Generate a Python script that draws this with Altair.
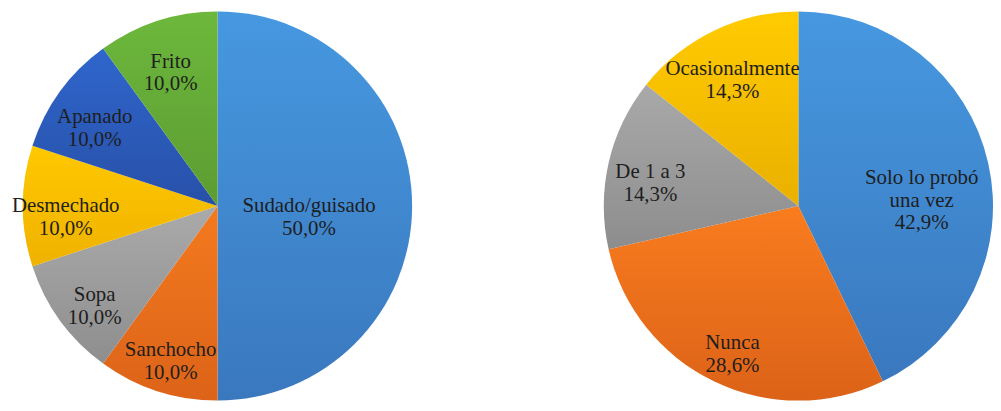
import math
import textwrap

import altair as alt
import pandas as pd

# ---- data -------------------------------------------------------------
left_categories = ["Sudado/guisado", "Sanchocho", "Sopa", "Desmechado", "Apanado", "Frito"]
left_values = [50.0, 10.0, 10.0, 10.0, 10.0, 10.0]

right_categories = ["Solo lo probó una vez", "Nunca", "De 1 a 3", "Ocasionalmente"]
right_values = [42.9, 28.6, 14.3, 14.3]

# ---- styles (gradient top / bottom colour for each slice) -------------
left_top = ["#4698E0", "#F47A1F", "#AAAAAA", "#FFC800", "#2F66CC", "#6DB83C"]
left_bottom = ["#3A78BE", "#DC6318", "#8E8E8E", "#EFB200", "#2850A8", "#5C9C32"]
right_top = ["#4698E0", "#F97C1E", "#A9A9A9", "#FFCB00"]
right_bottom = ["#3A78BE", "#DC6218", "#8D8D8D", "#EAB000"]

R = 196
FONT = "Liberation Serif, Times New Roman, DejaVu Serif, serif"


def pie(cats, vals, tops, bottoms, width, height):
    df = pd.DataFrame(
        {
            "cat": cats,
            "value": vals,
            "order": list(range(len(cats))),
            "label": ["\n".join(textwrap.wrap(c, 14)) for c in cats],
        }
    )
    total = float(sum(vals))
    theta_scale = alt.Scale(domain=[0, total], range=[0, 2 * math.pi])

    base = (
        alt.Chart(df)
        .transform_window(cum="sum(value)", sort=[alt.SortField("order")])
        .transform_calculate(
            start="datum.cum - datum.value",
            mid="datum.cum - datum.value / 2",
            pct="replace(format(datum.value, '.1f'), '.', ',') + '%'",
        )
        .transform_calculate(
            txt="datum.label + '\\n' + datum.pct",
            lr=f"datum.value >= 45 ? {0.47 * R} : datum.value >= 40 ? {0.65 * R} : {0.78 * R}",
        )
    )

    layers = []
    for i in range(len(cats)):
        grad = alt.LinearGradient(
            gradient="linear",
            stops=[
                alt.GradientStop(color=tops[i], offset=0),
                alt.GradientStop(color=bottoms[i], offset=1),
            ],
            x1=0,
            x2=0,
            y1=0,
            y2=1,
        )
        layers.append(
            base.transform_filter(alt.datum.order == i)
            .mark_arc(radius=R, color=grad, strokeWidth=0)
            .encode(
                theta=alt.Theta("start:Q", scale=theta_scale, stack=False),
                theta2="cum:Q",
            )
        )

    text = base.mark_text(
        font=FONT,
        fontSize=21,
        lineBreak="\n",
        lineHeight=23,
        color="#1E1E1E",
        align="center",
        baseline="middle",
    ).encode(
        theta=alt.Theta("mid:Q", scale=theta_scale, stack=False),
        radius=alt.Radius("lr:Q", scale=alt.Scale(type="linear", domain=[0, R], range=[0, R])),
        text="txt:N",
    )
    layers.append(text)
    return alt.layer(*layers).properties(width=width, height=height)


left = pie(left_categories, left_values, left_top, left_bottom, 422, 392)
right = pie(right_categories, right_values, right_top, right_bottom, 392, 392)

chart = (
    alt.hconcat(left, right, spacing=178)
    .resolve_scale(theta="independent", radius="independent")
    .properties(padding={"left": 0, "top": 2, "right": 0, "bottom": 0}, background="white")
    .configure_view(stroke=None)
)

chart.save("out.html", embed_options={"renderer": "svg", "actions": False})
